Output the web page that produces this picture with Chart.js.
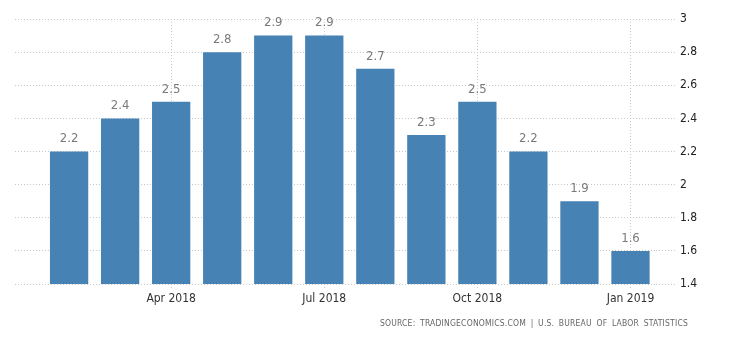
<!DOCTYPE html>
<html>
<head>
<meta charset="utf-8">
<script src="https://cdn.jsdelivr.net/npm/chart.js@4"></script>
<style>
  html, body { margin: 0; padding: 0; background: #fff; }
  #wrap { position: relative; width: 730px; height: 340px; }
  #source {
    position: absolute; right: 42px; top: 318px;
    font: 8.5px "DejaVu Sans Condensed", "DejaVu Sans", sans-serif; color: #666; letter-spacing: 0.2px; word-spacing: 2px;
  }
</style>
</head>
<body>
<div id="wrap">
  <canvas id="chart" width="730" height="340"></canvas>
  <div id="source">SOURCE: TRADINGECONOMICS.COM | U.S. BUREAU OF LABOR STATISTICS</div>
</div>
<script>
const months = ['Feb 2018', 'Mar 2018', 'Apr 2018', 'May 2018', 'Jun 2018', 'Jul 2018',
  'Aug 2018', 'Sep 2018', 'Oct 2018', 'Nov 2018', 'Dec 2018', 'Jan 2019'];
const inflation = [2.2, 2.4, 2.5, 2.8, 2.9, 2.9, 2.7, 2.3, 2.5, 2.2, 1.9, 1.6];
const labelledMonths = [2, 5, 8, 11];

// value above each bar
const valueLabels = {
  id: 'valueLabels',
  afterDatasetsDraw(chart) {
    const ctx = chart.ctx;
    ctx.save();
    ctx.font = '13px "DejaVu Sans Condensed", sans-serif';
    ctx.fillStyle = '#7a7a7a';
    ctx.textAlign = 'center';
    ctx.textBaseline = 'bottom';
    chart.getDatasetMeta(0).data.forEach((bar, i) => {
      ctx.fillText(inflation[i].toFixed(1), bar.x, bar.y - 6);
    });
    ctx.restore();
  }
};

new Chart(document.getElementById('chart'), {
  type: 'bar',
  data: {
    datasets: [{
      data: inflation.map((v, i) => ({ x: i, y: v })),
      backgroundColor: '#4682b4',
      barPercentage: 0.75,
      categoryPercentage: 1.0
    }]
  },
  options: {
    responsive: false,
    animation: false,
    layout: { padding: { left: 15, top: 19, right: 0, bottom: 0 } },
    plugins: { legend: { display: false }, tooltip: { enabled: false } },
    scales: {
      x: {
        type: 'linear',
        offset: false,
        min: -1.06,
        max: 11.5,
        afterBuildTicks: s => { s.ticks = labelledMonths.map(v => ({ value: v })); },
        afterFit: s => { s.height = 56; },
        ticks: {
          callback: v => months[v],
          maxRotation: 0,
          autoSkip: false,
          padding: 2,
          color: '#333',
          font: { family: 'DejaVu Sans Condensed', size: 12 }
        },
        grid: { offset: false, color: '#c8c8c8', tickLength: 6, tickColor: '#c8c8c8', tickBorderDash: [1, 2] },
        border: { display: false, dash: [1, 2] }
      },
      y: {
        position: 'right',
        min: 1.4,
        max: 3,
        afterFit: s => { s.width = 74; },
        ticks: {
          stepSize: 0.2,
          padding: 4,
          color: '#222',
          callback: v => Math.round(v * 10) / 10,
          font: { family: 'DejaVu Sans Condensed', size: 12 }
        },
        grid: { color: '#c8c8c8', tickLength: 20, tickColor: '#c8c8c8', tickBorderDash: [1, 2] },
        border: { display: false, dash: [1, 2] }
      }
    }
  },
  plugins: [valueLabels]
});
</script>
</body>
</html>
